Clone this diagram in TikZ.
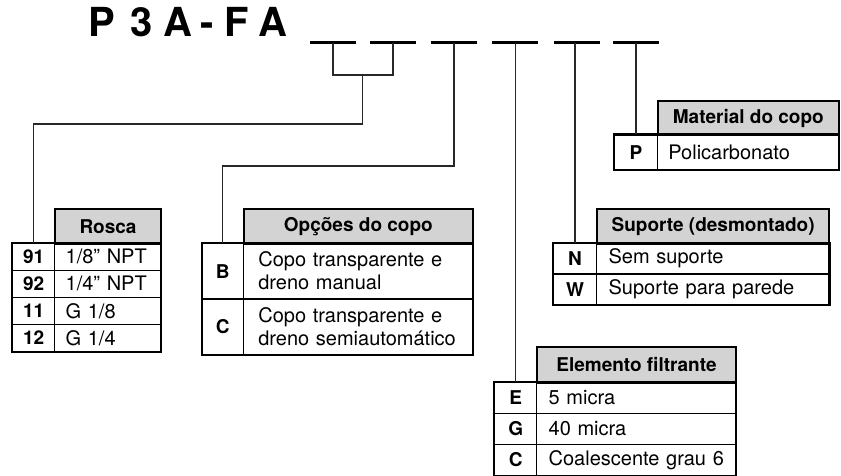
\documentclass[tikz,border=0pt]{standalone}
\usepackage{fontspec}
\setmainfont{TeX Gyre Heros}
\definecolor{headgray}{RGB}{211,211,211}
\definecolor{linegray}{RGB}{40,40,40}
\newcommand{\ia}{\hspace*{11pt}}
\newcommand{\ib}{\hspace*{12pt}}
\newcommand{\ic}{\hspace*{15pt}}
\begin{document}
\begin{tikzpicture}[x=1pt,y=-1pt,
  every node/.style={inner sep=0pt},
  hdr/.style={draw, line width=2pt, fill=headgray, anchor=north west,
    font=\fontsize{19}{22}\selectfont\bfseries, align=center},
  keycell/.style={draw, line width=1.3pt, anchor=north west,
    font=\fontsize{19}{22}\selectfont\bfseries, align=center},
  valcell/.style={draw, line width=1.3pt, anchor=north west,
    font=\fontsize{20}{23}\selectfont, align=left},
  outer/.style={draw, line width=2pt},
  conn/.style={draw=linegray, line width=1.1pt},
  dashbar/.style={fill=black, minimum width=46pt, minimum height=2.8pt}
]
\useasboundingbox (0,0) rectangle (841,476);

% title
\node[anchor=base west, font=\fontsize{40}{40}\selectfont\bfseries] (title) at (88.5,37)
  {P\kern15pt 3\kern11pt A\kern8pt -\kern11pt F\kern9pt A};

% code dashes
\node[dashbar] (d1) at (333,42.7) {};
\node[dashbar] (d2) at (393,42.7) {};
\node[dashbar] (d3) at (454,42.7) {};
\node[dashbar] (d4) at (514.5,42.7) {};
\node[dashbar] (d5) at (576.5,42.7) {};
\node[dashbar] (d6) at (636,42.7) {};

% ---------- Rosca ----------
\node[hdr, minimum width=106pt, minimum height=34.7pt] (rosh) at (54,208) {Rosca};
\node[keycell, minimum width=42pt, minimum height=27pt] (rosk1) at (12,242.7) {91};
\node[valcell, text width=106pt, minimum height=27pt] (rosv1) at (54,242.7) {\ia 1/8” NPT};
\node[keycell, minimum width=42pt, minimum height=27pt] (rosk2) at (12,269.7) {92};
\node[valcell, text width=106pt, minimum height=27pt] (rosv2) at (54,269.7) {\ia 1/4” NPT};
\node[keycell, minimum width=42pt, minimum height=27pt] (rosk3) at (12,296.7) {11};
\node[valcell, text width=106pt, minimum height=27pt] (rosv3) at (54,296.7) {\ia G 1/8};
\node[keycell, minimum width=42pt, minimum height=27pt] (rosk4) at (12,323.7) {12};
\node[valcell, text width=106pt, minimum height=27pt] (rosv4) at (54,323.7) {\ia G 1/4};
\draw[outer] (rosk1.north west) rectangle (rosv4.south east);

% ---------- Opcoes do copo ----------
\node[hdr, minimum width=229.3pt, minimum height=34.4pt] (opch) at (242.7,208.3) {Opções do copo};
\node[keycell, minimum width=41pt, minimum height=55.65pt] (opck1) at (201.7,242.7) {B};
\node[valcell, text width=229.3pt, minimum height=55.65pt] (opcv1) at (242.7,242.7)
  {\ic Copo transparente e\\\ic dreno manual};
\node[keycell, minimum width=41pt, minimum height=55.65pt] (opck2) at (201.7,298.35) {C};
\node[valcell, text width=229.3pt, minimum height=55.65pt] (opcv2) at (242.7,298.35)
  {\ic Copo transparente e\\\ic dreno semiautomático};
\draw[outer] (opck1.north west) rectangle (opcv2.south east);

% ---------- Material do copo ----------
\node[hdr, minimum width=181.3pt, minimum height=34.3pt] (math) at (656.7,100) {Material do copo};
\node[keycell, minimum width=42.7pt, minimum height=34.7pt] (matk1) at (614,134.3) {P};
\node[valcell, text width=181.3pt, minimum height=34.7pt] (matv1) at (656.7,134.3) {\ia Policarbonato};
\draw[outer] (matk1.north west) rectangle (matv1.south east);

% ---------- Suporte ----------
\node[hdr, minimum width=232.3pt, minimum height=34.4pt] (suph) at (596,208.3) {Suporte (desmontado)};
\node[keycell, minimum width=43.3pt, minimum height=30.5pt] (supk1) at (552.7,242.7) {N};
\node[valcell, text width=232.3pt, minimum height=30.5pt] (supv1) at (596,242.7) {\ib Sem suporte};
\node[keycell, minimum width=43.3pt, minimum height=30.5pt] (supk2) at (552.7,273.2) {W};
\node[valcell, text width=232.3pt, minimum height=30.5pt] (supv2) at (596,273.2) {\ib Suporte para parede};
\draw[outer] (supk1.north west) rectangle (supv2.south east);

% ---------- Elemento filtrante ----------
\node[hdr, minimum width=199pt, minimum height=35.7pt] (eleh) at (536,346) {Elemento filtrante};
\node[keycell, minimum width=42pt, minimum height=31pt] (elek1) at (494,381.7) {E};
\node[valcell, text width=199pt, minimum height=31pt] (elev1) at (536,381.7) {\ib 5 micra};
\node[keycell, minimum width=42pt, minimum height=31pt] (elek2) at (494,412.7) {G};
\node[valcell, text width=199pt, minimum height=31pt] (elev2) at (536,412.7) {\ib 40 micra};
\node[keycell, minimum width=42pt, minimum height=31pt] (elek3) at (494,443.7) {C};
\node[valcell, text width=199pt, minimum height=31pt] (elev3) at (536,443.7) {\ib Coalescente grau 6};
\draw[outer] (elek1.north west) rectangle (elev3.south east);

% ---------- connectors ----------
\coordinate (bra) at (362.7,75);
\coordinate (rturn) at (362.7,124);
\coordinate (oturn) at (454,166);
\draw[conn] (d1.center) -- (d1.center |- bra) -- (d2.center |- bra) -- (d2.center);
\draw[conn] (bra) -- (rturn) -| (rosk1.north);
\draw[conn] (d3.center) -- (oturn) -| (opck1.north);
\draw[conn] (elek1.north |- d4.center) -- (elek1.north);
\draw[conn] (supk1.north |- d5.center) -- (supk1.north);
\draw[conn] (matk1.north |- d6.center) -- (matk1.north);
\end{tikzpicture}
\end{document}
